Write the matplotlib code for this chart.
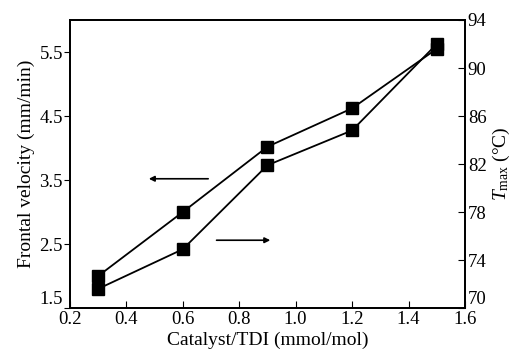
import matplotlib.pyplot as plt

plt.rcParams['font.family'] = ['Liberation Serif', 'DejaVu Serif']
plt.rcParams['mathtext.fontset'] = 'custom'
plt.rcParams['mathtext.it'] = 'Liberation Serif:italic'
plt.rcParams['mathtext.rm'] = 'Liberation Serif'

# catalyst/TDI ratio (mmol/mol)
catalyst = [0.3, 0.6, 0.9, 1.2, 1.5]
# frontal velocity (mm/min), left axis
velocity = [2.0, 3.0, 4.02, 4.62, 5.55]
# maximum temperature (C), right axis
t_max = [71.6, 74.9, 81.9, 84.8, 92.0]

x_ticks = [0.2, 0.4, 0.6, 0.8, 1.0, 1.2, 1.4, 1.6]
v_ticks = [1.5, 2.5, 3.5, 4.5, 5.5]
t_ticks = [70, 74, 78, 82, 86, 90, 94]

fig = plt.figure(figsize=(5.29, 3.57), dpi=100)
ax = fig.add_axes([0.132, 0.137, 0.747, 0.807])
ax2 = ax.twinx()

ax.plot(catalyst, velocity, color='black', lw=1.3, marker='s', ms=8)
ax2.plot(catalyst, t_max, color='black', lw=1.3, marker='s', ms=8)

ax.set_xlim(0.2, 1.6)
ax.set_ylim(1.5, 6.0)
ax2.set_ylim(70, 94)
ax.set_xticks(x_ticks)
ax.set_yticks(v_ticks)
ax2.set_yticks(t_ticks)

ax.tick_params(axis='x', direction='in', length=5, labelsize=13.5, pad=2)
ax.tick_params(axis='y', direction='out', length=4, labelsize=13.5, pad=1)
ax2.tick_params(axis='y', direction='in', length=5, labelsize=13.5, pad=2)

# lowest labels sit above the bottom spine, as in the original
ax.get_yticklabels()[0].set_verticalalignment('bottom')
ax2.get_yticklabels()[0].set_verticalalignment('bottom')

for a in (ax, ax2):
    for s in a.spines.values():
        s.set_linewidth(1.3)

ax.set_xlabel('Catalyst/TDI (mmol/mol)', fontsize=14, labelpad=3)
ax.set_ylabel('Frontal velocity (mm/min)', fontsize=14, labelpad=3)
ax2.set_ylabel(r'$T_{\rm max}$ (°C)', fontsize=14, labelpad=3)

# arrows pointing to each axis
ax.annotate('', xy=(0.47, 3.52), xytext=(0.70, 3.52),
            arrowprops=dict(arrowstyle='-|>', color='black', lw=1.2, mutation_scale=8))
ax.annotate('', xy=(0.92, 2.56), xytext=(0.71, 2.56),
            arrowprops=dict(arrowstyle='-|>', color='black', lw=1.2, mutation_scale=8))

fig.savefig('out.png', dpi=100)
